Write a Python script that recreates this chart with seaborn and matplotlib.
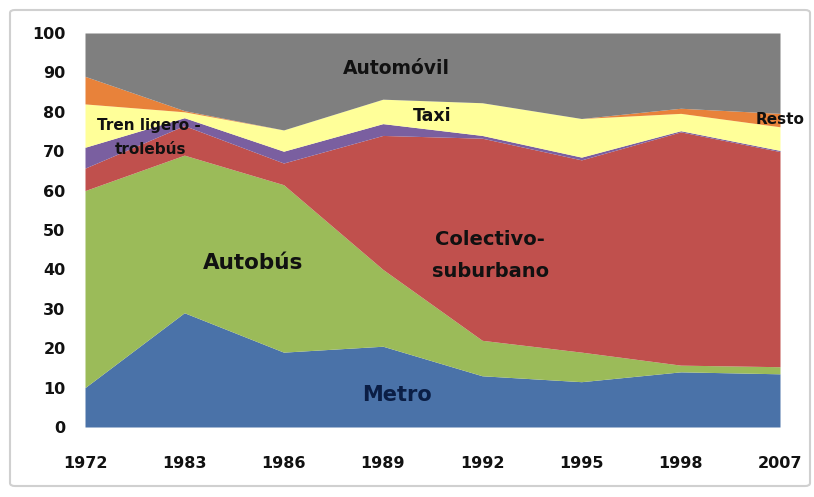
import matplotlib
matplotlib.use("Agg")
import matplotlib.pyplot as plt
import seaborn as sns
import numpy as np
from matplotlib.patches import FancyBboxPatch

years = ["1972", "1983", "1986", "1989", "1992", "1995", "1998", "2007"]
metro = [10, 29, 19, 20.5, 13, 11.5, 14, 13.5]
autobus = [50, 40, 42.5, 19.5, 9, 7.5, 1.7, 1.8]
colectivo = [5.7, 7.5, 5.5, 34, 51.3, 48.8, 59.2, 54.6]
tren = [5.3, 2, 3, 3, 0.7, 0.7, 0.3, 0.3]
taxi = [11, 1.5, 5.4, 6.2, 8.3, 9.8, 4.4, 6]
resto = [7, 0.3, 0, 0, 0, 0, 1.3, 3.4]
automovil = [11, 19.7, 24.6, 16.8, 17.7, 21.7, 19.1, 20.4]
yticks = [0, 10, 20, 30, 40, 50, 60, 70, 80, 90, 100]

colors = ["#4a72a8", "#9bbb59", "#c0504d", "#7a5fa0", "#ffff99", "#e8823a", "#7f7f7f"]

sns.set_theme(style="white")
plt.rcParams['font.family'] = ['DejaVu Sans']

fig = plt.figure(figsize=(8.14, 4.97), dpi=100)
ax = fig.add_axes([85/814, 1-427/497, (780-85)/814, (427-33)/497])

x = np.arange(len(years))
ax.stackplot(x, metro, autobus, colectivo, tren, taxi, resto, automovil,
             colors=colors, linewidth=0)

ax.set_xlim(0, len(years)-1)
ax.set_ylim(0, 100)
ax.set_xticks(x)
ax.set_xticklabels(years)
ax.set_yticks(yticks)
ax.set_yticklabels([str(v) for v in yticks])
for s in ax.spines.values():
    s.set_visible(False)
ax.tick_params(axis='both', length=0, labelsize=11.5, colors='#111111')
ax.tick_params(axis='y', pad=14)
ax.tick_params(axis='x', pad=21)
for lab in ax.get_xticklabels() + ax.get_yticklabels():
    lab.set_fontweight('heavy')

tk = dict(fontweight='heavy', color='#111111')
ax.text(3.14, 91, "Automóvil", fontsize=13.5, ha='center', va='center', **tk)
ax.text(3.5, 79, "Taxi", fontsize=12.5, ha='center', va='center', **tk)
ax.text(0.12, 76.5, "Tren ligero -", fontsize=11, ha='left', va='center', **tk)
ax.text(0.3, 70.5, "trolebús", fontsize=11, ha='left', va='center', **tk)
ax.text(6.75, 78, "Resto", fontsize=11, ha='left', va='center', **tk)
ax.text(1.69, 41.5, "Autobús", fontsize=15.5, ha='center', va='center', **tk)
ax.text(4.08, 47.5, "Colectivo-", fontsize=14, ha='center', va='center', **tk)
ax.text(4.08, 39.5, "suburbano", fontsize=14, ha='center', va='center', **tk)
ax.text(3.14, 8, "Metro", fontsize=15, ha='center', va='center',
        fontweight='heavy', color='#0b1e45')

border = FancyBboxPatch((10/814, 1-486/497), 800/814, (486-10)/497,
                        boxstyle="round,pad=0,rounding_size=0.006",
                        transform=fig.transFigure, fill=False,
                        edgecolor='#d0d0d0', linewidth=1.5)
fig.patches.append(border)

fig.savefig("out.png", dpi=100)
